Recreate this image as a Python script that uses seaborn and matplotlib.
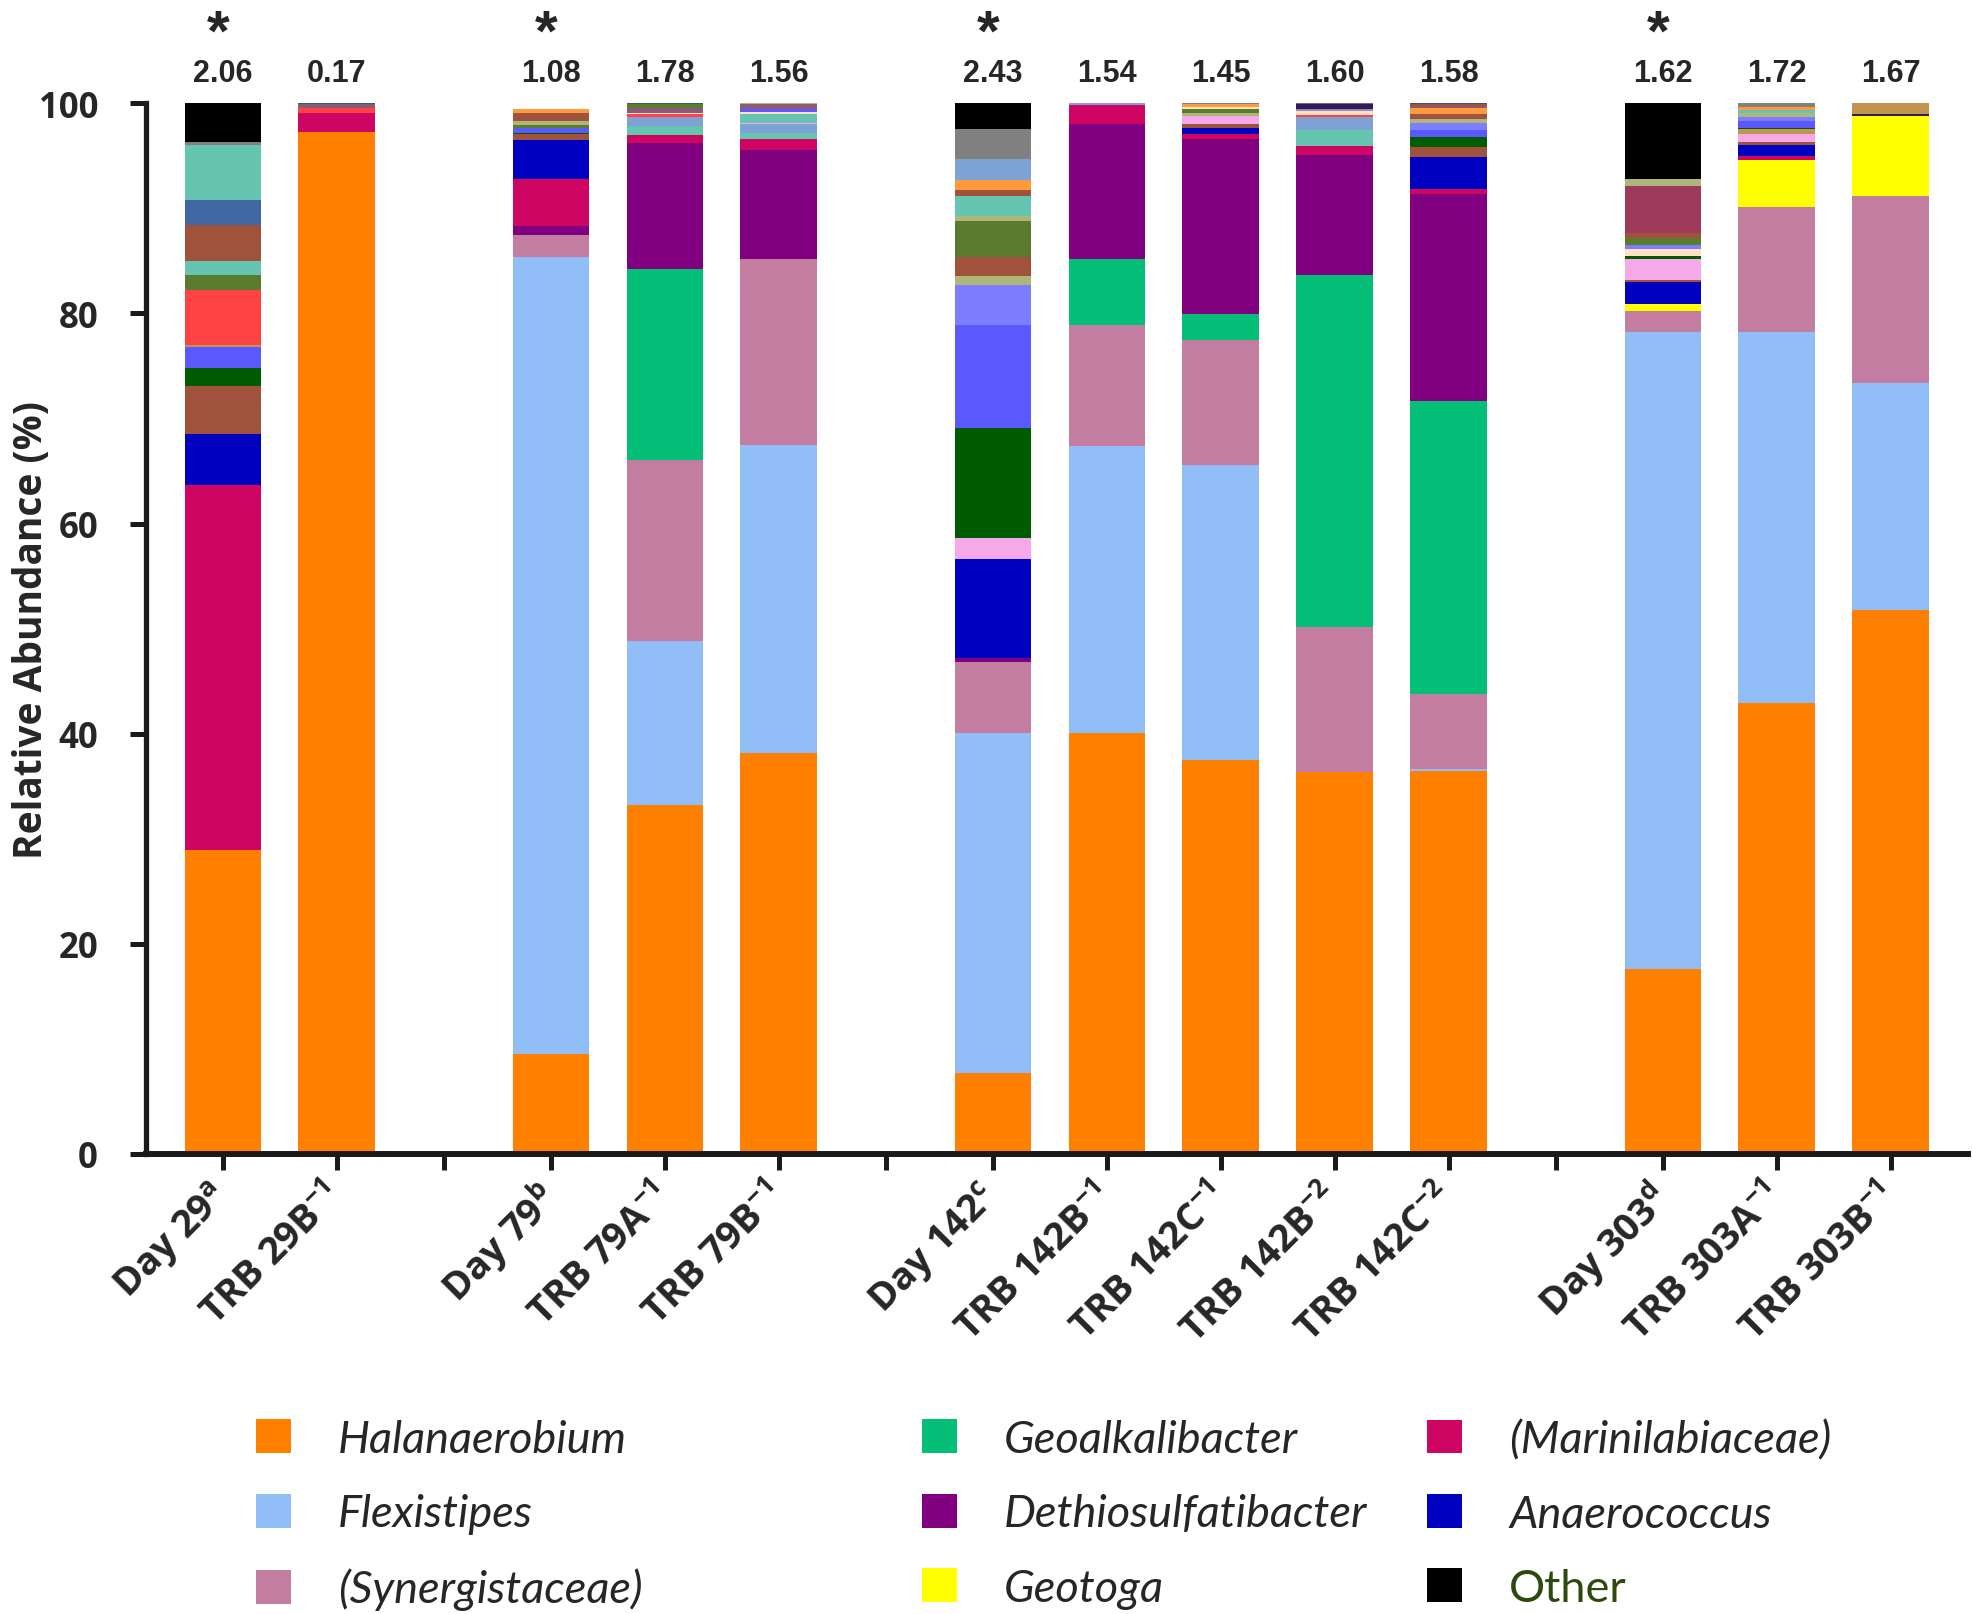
import numpy as np
import seaborn as sns
import matplotlib.pyplot as plt
from matplotlib.patches import Patch

# samples along the x axis, grouped by sampling day
samples = ["Day 29$^{\\mathrm{a}}$", "TRB 29B$^{\\mathrm{-1}}$",
           "Day 79$^{\\mathrm{b}}$", "TRB 79A$^{\\mathrm{-1}}$", "TRB 79B$^{\\mathrm{-1}}$",
           "Day 142$^{\\mathrm{c}}$", "TRB 142B$^{\\mathrm{-1}}$", "TRB 142C$^{\\mathrm{-1}}$",
           "TRB 142B$^{\\mathrm{-2}}$", "TRB 142C$^{\\mathrm{-2}}$",
           "Day 303$^{\\mathrm{d}}$", "TRB 303A$^{\\mathrm{-1}}$", "TRB 303B$^{\\mathrm{-1}}$"]
groups = [0, 0, 1, 1, 1, 2, 2, 2, 2, 2, 3, 3, 3]
diversity = ["2.06", "0.17", "1.08", "1.78", "1.56", "2.43", "1.54", "1.45", "1.60", "1.58", "1.62", "1.72", "1.67"]
significant = [True, False, True, False, False, True, False, False, False, False, True, False, False]

# relative abundance (%) of the named taxa, stacked bottom -> top
halanaerobium = [28.9, 97.29, 9.47, 33.21, 38.13, 7.7, 40.05, 37.53, 36.33, 36.45, 17.63, 42.93, 51.8]
flexistipes = [0, 0, 75.91, 15.59, 29.38, 32.35, 27.33, 28.06, 0, 0.15, 60.6, 35.3, 21.57]
synergistaceae = [0, 0, 2.09, 17.27, 17.68, 6.82, 11.53, 11.91, 13.79, 7.16, 1.97, 11.91, 17.79]
geoalkalibacter = [0, 0, 0, 18.2, 0, 0, 6.26, 2.44, 33.57, 27.94, 0, 0, 0]
dethiosulfatibacter = [0, 0, 0.83, 11.91, 10.32, 0.38, 12.9, 16.62, 11.35, 19.68, 0, 0, 0]
geotoga = [0, 0, 0, 0, 0, 0, 0, 0, 0, 0, 0.73, 4.45, 7.63]
marinilabiaceae = [34.8, 1.81, 4.51, 0.8, 1.05, 0, 1.78, 0.48, 0.89, 0.51, 0, 0.39, 0]
anaerococcus = [4.8, 0, 3.66, 0, 0, 9.4, 0, 0.57, 0, 3.02, 2.03, 1.01, 0]
other = [3.69, 0, 0, 0, 0, 2.4, 0, 0, 0, 0, 7.16, 0, 0]

# low-abundance taxa (not in the legend), per sample, bottom -> top
minor_day29 = [("brown", 4.55), ("dkgreen", 1.75), ("medblue", 1.97), ("tan", 0.25), ("red", 5.21),
               ("olive", 1.46), ("teal", 1.34), ("brown", 3.43), ("steel", 2.29), ("teal", 5.3), ("gray", 0.26)]
minor_trb29b = [("red", 0.48), ("mauve", 0.32), ("dkteal", 0.1)]
minor_day79 = [("brown", 0.57), ("dkgreen", 0.16), ("medblue", 0.47), ("olive", 0.3), ("khaki", 0.34),
               ("brown", 0.79), ("ltorange", 0.39)]
minor_trb79a = [("teal", 0.85), ("ltsteel", 0.89), ("red", 0.23), ("peach", 0.15), ("mauve", 0.48),
                ("olive", 0.32), ("dkteal", 0.1)]
minor_trb79b = [("teal", 0.64), ("ltsteel", 0.79), ("ltpink", 0.16), ("teal", 0.8), ("peach", 0.25),
                ("medblue", 0.22), ("mauve", 0.48), ("khaki", 0.1)]
minor_day142 = [("ltpink", 2.01), ("dkgreen", 10.46), ("medblue", 9.79), ("lavender", 3.79), ("khaki", 0.86),
                ("brown", 1.83), ("olive", 3.4), ("khaki", 0.51), ("teal", 1.91), ("brown", 0.56),
                ("ltorange", 0.94), ("ltsteel", 1.95), ("gray", 2.94)]
minor_trb142b1 = [("ltsteel", 0.15)]
minor_trb142c1 = [("brown", 0.38), ("ltpink", 0.8), ("khaki", 0.31), ("olive", 0.32), ("peach", 0.24),
                  ("ltorange", 0.24), ("gray", 0.1)]
minor_trb142b2 = [("teal", 1.52), ("ltsteel", 1.27), ("red", 0.16), ("peach", 0.38), ("lavgray", 0.16),
                  ("navy", 0.48), ("mauve", 0.1)]
minor_trb142c2 = [("brown", 0.92), ("dkgreen", 0.96), ("medblue", 0.66), ("lavender", 0.7), ("khaki", 0.32),
                  ("brown", 0.53), ("ltorange", 0.58), ("mauve", 0.16), ("brown", 0.16), ("dkgray", 0.1)]
minor_day303 = [("brown", 0.19), ("ltpink", 2.07), ("dkgreen", 0.22), ("peach", 0.73), ("lavender", 0.32),
                ("olive", 0.7), ("brown", 0.47), ("maroon", 4.45), ("khaki", 0.73)]
minor_trb303a = [("brown", 0.32), ("ltpink", 0.73), ("tan", 0.48), ("dkgreen", 0.15), ("medblue", 0.64),
                 ("lavender", 0.38), ("khaki", 0.41), ("teal", 0.26), ("ltorange", 0.32), ("gray", 0.32)]
minor_trb303b = [("navy", 0.16), ("tan", 1.05)]

minor_stacks = [minor_day29, minor_trb29b, minor_day79, minor_trb79a, minor_trb79b,
                minor_day142, minor_trb142b1, minor_trb142c1, minor_trb142b2, minor_trb142c2,
                minor_day303, minor_trb303a, minor_trb303b]

main_names = ["Halanaerobium", "Flexistipes", "(Synergistaceae)", "Geoalkalibacter", "Dethiosulfatibacter",
              "Geotoga", "(Marinilabiaceae)", "Anaerococcus"]
main_values = [halanaerobium, flexistipes, synergistaceae, geoalkalibacter, dethiosulfatibacter,
               geotoga, marinilabiaceae, anaerococcus]
main_colors = ["#FF8000", "#92BEF8", "#C27DA0", "#05BF78", "#800080", "#FFFF00", "#CF0563", "#0000C0"]
other_color = "#000000"

minor_palette = {
    "teal": "#66C5B0", "steel": "#4067A3", "brown": "#A0523C", "olive": "#5B7B2E", "red": "#FF4242",
    "medblue": "#5959FF", "dkgreen": "#005C00", "ltsteel": "#7EA1D6", "gray": "#808080",
    "ltorange": "#FF9A3C", "khaki": "#AFB67A", "lavender": "#7D7DFF", "ltpink": "#F5A9E8",
    "maroon": "#9E3B5D", "peach": "#FFE0C0", "tan": "#C39350", "navy": "#2B1E5E", "mauve": "#8C5A78",
    "dkteal": "#2A6A5A", "lavgray": "#9A8AB8", "dkgray": "#505050",
}

sns.set_style("ticks")
plt.rcParams["font.family"] = ["Open Sans", "DejaVu Sans"]
plt.rcParams["mathtext.fontset"] = "custom"
plt.rcParams["mathtext.rm"] = "Open Sans:bold"
plt.rcParams["mathtext.it"] = "Open Sans:bold"

fig = plt.figure(figsize=(19.72, 16.15), dpi=100)
ax = fig.add_axes([146 / 1972, 1 - 1155 / 1615, (1968 - 146) / 1972, (1155 - 104.3) / 1615])

group_gap = 0.88
bar_width = 0.67
x = np.arange(len(samples)) + np.array(groups) * group_gap

bottom = np.zeros(len(samples))
for name, vals, col in zip(main_names, main_values, main_colors):
    vals = np.array(vals, dtype=float)
    ax.bar(x, vals, bar_width, bottom=bottom, color=col, linewidth=0)
    bottom += vals

for i, stack in enumerate(minor_stacks):
    for key, val in stack:
        ax.bar(x[i], val, bar_width, bottom=bottom[i], color=minor_palette[key], linewidth=0)
        bottom[i] += val

ax.bar(x, other, bar_width, bottom=bottom, color=other_color, linewidth=0)

# diversity index and significance star above each bar
for xi, txt, star in zip(x, diversity, significant):
    ax.annotate(txt, xy=(xi, 100), xytext=(0, 16), textcoords="offset points", ha="center", va="baseline",
                fontsize=22, fontweight="bold", family="Liberation Sans", annotation_clip=False)
    if star:
        ax.annotate("*", xy=(xi, 100), xytext=(-3, 39), textcoords="offset points", ha="center",
                    va="baseline", fontsize=42, fontweight="bold", family="Liberation Sans",
                    annotation_clip=False)

ax.set_xlim(-0.673, 15.32)
ax.set_ylim(0, 100)
ax.set_yticks(np.arange(0, 101, 20))
ax.set_xticks(x)
ax.set_xticklabels(samples, rotation=45, ha="right", va="center", rotation_mode="anchor",
                   fontsize=27.5, fontweight="bold")
gap_ticks = [(x[i] + x[i + 1]) / 2 for i in range(len(x) - 1) if groups[i] != groups[i + 1]]
ax.set_xticks(gap_ticks, minor=True)
ax.tick_params(axis="x", which="both", length=11.5, width=3.6, color="#1a1a1a", pad=15)
ax.tick_params(axis="y", length=11.5, width=3.6, color="#1a1a1a", pad=23, labelsize=25)
for lab in ax.get_yticklabels():
    lab.set_fontweight("bold")

ax.set_ylabel("Relative Abundance (%)", fontsize=28, fontweight="bold")
ax.yaxis.set_label_coords(-0.052, 0.5)

sns.despine(ax=ax)
ax.spines["left"].set_linewidth(3.8)
ax.spines["bottom"].set_linewidth(4.3)
ax.spines["left"].set_color("#1a1a1a")
ax.spines["bottom"].set_color("#1a1a1a")

# legend in three columns
handles = [Patch(facecolor=c, edgecolor="none", label=n) for n, c in zip(main_names, main_colors)]
handles.append(Patch(facecolor=other_color, edgecolor="none", label="Other"))
col_left = [256, 922, 1427]
for k in range(3):
    leg = fig.legend(handles=handles[3 * k:3 * k + 3], loc="upper left",
                     bbox_to_anchor=(col_left[k] / 1972, 1 - 1420 / 1615),
                     frameon=False, borderpad=0, borderaxespad=0,
                     handlelength=0.77, handleheight=0.77, handletextpad=1.05, labelspacing=0.74,
                     prop={"family": "Lato", "style": "italic", "size": 32.5})
    for t in leg.get_texts():
        if t.get_text() == "Other":
            t.set_fontstyle("normal")
            t.set_color("#2D4A0E")

fig.savefig("out.png", dpi=100)
